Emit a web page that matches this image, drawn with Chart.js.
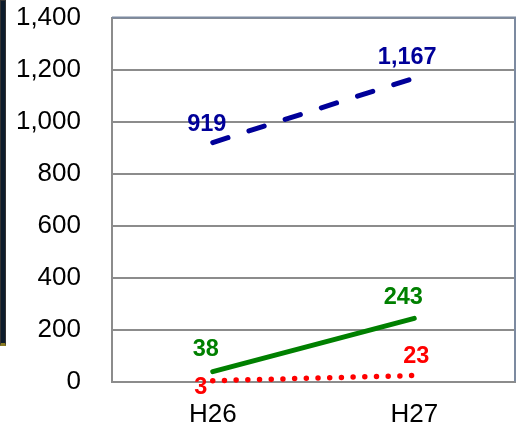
<!DOCTYPE html>
<html>
<head>
<meta charset="utf-8">
<script src="https://cdn.jsdelivr.net/npm/chart.js@4/dist/chart.umd.min.js"></script>
<style>
  html, body { margin: 0; padding: 0; background: #fff; }
  #wrap { position: relative; width: 522px; height: 426px; }
  #edge { position: absolute; left: 0; top: 0; width: 4px; height: 342px; background: #0d1c2c; border: 1px solid #333; border-bottom: 3px solid #8a7b22; }
  canvas { position: absolute; left: 0; top: 0; }
</style>
</head>
<body>
<div id="wrap">
  <canvas id="c" width="522" height="426"></canvas>
  <div id="edge"></div>
</div>
<script>
const categories = ['H26', 'H27'];
const seriesBlue = [919, 1167];
const seriesGreen = [38, 243];
const seriesRed = [3, 23];
const yTicks = [0, 200, 400, 600, 800, 1000, 1200, 1400];

const labelPlugin = {
  id: 'valueLabels',
  afterDatasetsDraw(chart, args, opts) {
    const ctx = chart.ctx;
    ctx.save();
    ctx.font = 'bold 23.5px "Liberation Sans", Arial, sans-serif';
    ctx.textAlign = 'center';
    ctx.textBaseline = 'middle';
    chart.data.datasets.forEach((ds, di) => {
      const meta = chart.getDatasetMeta(di);
      const offs = opts.offsets[di];
      meta.data.forEach((pt, i) => {
        ctx.fillStyle = ds.borderColor;
        ctx.fillText(ds.data[i].toLocaleString('en-US'), pt.x + offs[i][0], pt.y + offs[i][1]);
      });
    });
    ctx.restore();
  }
};

const framePlugin = {
  id: 'frame',
  beforeDatasetsDraw(chart) {
    const a = chart.chartArea, ctx = chart.ctx;
    ctx.save();
    ctx.strokeStyle = '#7c8aa0';
    ctx.lineWidth = 2;
    ctx.beginPath();
    ctx.moveTo(a.left, a.top);
    ctx.lineTo(a.right, a.top);
    ctx.lineTo(a.right, a.bottom);
    ctx.stroke();
    ctx.restore();
  }
};

new Chart(document.getElementById('c'), {
  type: 'line',
  data: {
    labels: categories,
    datasets: [
      { data: seriesBlue, borderColor: '#000099', borderWidth: 5, borderDash: [16, 22], borderCapStyle: 'round', pointRadius: 0, clip: false },
      { data: seriesGreen, borderColor: '#008000', borderWidth: 5, borderCapStyle: 'round', pointRadius: 0, clip: false },
      { data: seriesRed, borderColor: '#FF0000', borderWidth: 5.5, borderDash: [0, 11.7], borderCapStyle: 'round', pointRadius: 0, clip: false }
    ]
  },
  options: {
    responsive: false,
    animation: false,
    layout: { padding: { top: 17.5, right: 7, left: 0, bottom: 0 } },
    plugins: {
      legend: { display: false },
      tooltip: { enabled: false },
      valueLabels: {
        offsets: [
          [[-6, -18], [-7, -21]],
          [[-7, -22], [-11, -21]],
          [[-12, 7], [2, -19]]
        ]
      }
    },
    scales: {
      x: {
        offset: true,
        grid: { display: false, drawTicks: false },
        border: { display: true, color: '#8c8c8c', width: 2 },
        ticks: { color: '#000', font: { family: '"Liberation Sans", Arial, sans-serif', size: 26 }, padding: 18 },
        afterFit(s) { s.height = 44.5; s.paddingLeft = 0; s.paddingRight = 0; }
      },
      y: {
        min: 0, max: 1400,
        afterBuildTicks(s) { s.ticks = yTicks.map(v => ({ value: v })); },
        grid: { color: '#8c8c8c', lineWidth: 2, drawTicks: false },
        border: { display: true, color: '#8c8c8c', width: 2 },
        ticks: {
          color: '#000',
          font: { family: '"Liberation Sans", Arial, sans-serif', size: 26 },
          padding: 31,
          callback: v => v.toLocaleString('en-US')
        },
        afterFit(s) { s.width = 112; s.paddingTop = 0; s.paddingBottom = 0; }
      }
    }
  },
  plugins: [framePlugin, labelPlugin]
});
</script>
</body>
</html>
